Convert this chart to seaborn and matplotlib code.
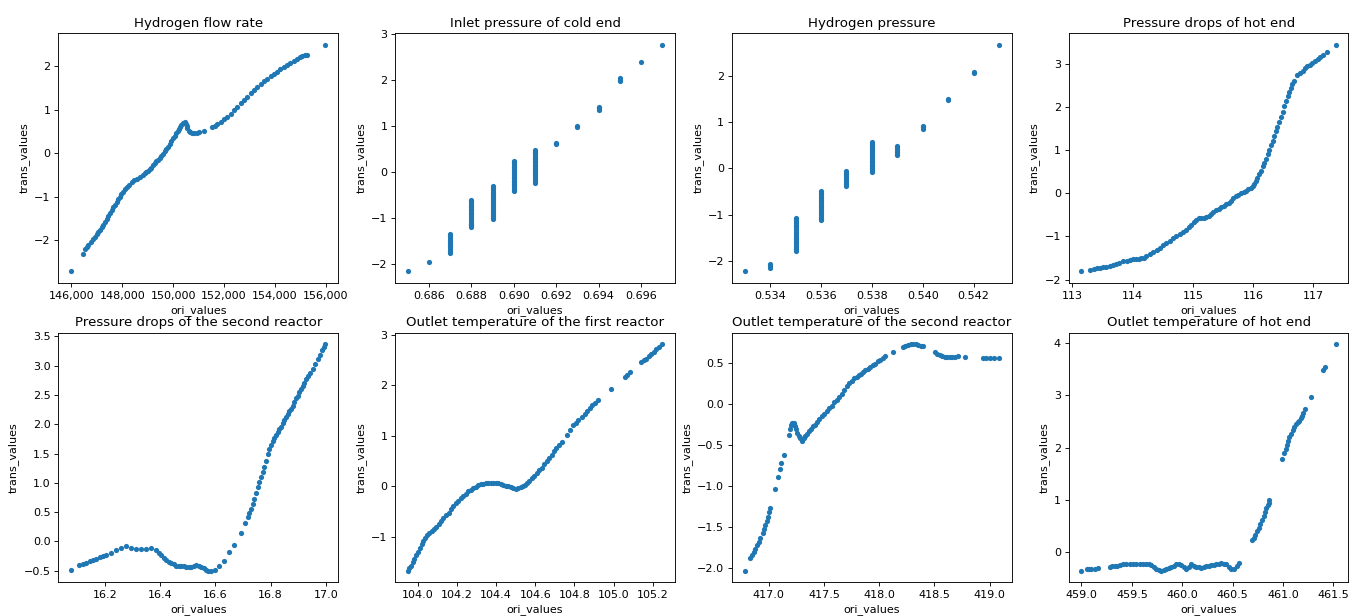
import pandas as pd
import matplotlib.pyplot as plt
import matplotlib.ticker as mticker
import seaborn as sns

# Hydrogen flow rate
flow_x = [145990, 146444, 146549, 146610, 146667, 146760, 146863, 146930, 147000, 147060, 147124,
          147190, 147250, 147320, 147386, 147450, 147520, 147580, 147647, 147710, 147780, 147840,
          147908, 147970, 148040, 148100, 148170, 148270, 148366, 148460, 148562, 148690, 148824,
          148890, 148950, 149020, 149085, 149150, 149210, 149280, 149346, 149410, 149480, 149540,
          149608, 149670, 149740, 149800, 149869, 149930, 150000, 150060, 150131, 150180, 150230,
          150280, 150327, 150400, 150458, 150510, 150540, 150562, 150615, 150667, 150740, 150824,
          150920, 151020, 151216, 151542, 151640, 151739, 151870, 152000, 152130, 152261, 152390,
          152523, 152650, 152784, 152910, 153046, 153180, 153307, 153440, 153569, 153700, 153830,
          153960, 154092, 154220, 154353, 154480, 154614, 154750, 154876, 154970, 155072, 155170,
          155268, 155987]
flow_y = [-2.71, -2.32, -2.19, -2.15, -2.10, -2.03, -1.96, -1.91, -1.86, -1.81, -1.76,
          -1.70, -1.64, -1.58, -1.51, -1.44, -1.37, -1.31, -1.24, -1.18, -1.12, -1.06,
          -1.00, -0.94, -0.88, -0.83, -0.78, -0.72, -0.67, -0.62, -0.58, -0.54, -0.49,
          -0.46, -0.43, -0.40, -0.37, -0.33, -0.28, -0.23, -0.19, -0.15, -0.10, -0.06,
          -0.01, 0.04, 0.10, 0.15, 0.21, 0.27, 0.34, 0.40, 0.47, 0.52, 0.56,
          0.61, 0.65, 0.70, 0.72, 0.68, 0.62, 0.57, 0.52, 0.49, 0.47, 0.46,
          0.47, 0.48, 0.52, 0.60, 0.63, 0.66, 0.72, 0.78, 0.84, 0.90, 0.98,
          1.06, 1.14, 1.22, 1.30, 1.37, 1.44, 1.51, 1.58, 1.65, 1.71, 1.76,
          1.82, 1.87, 1.92, 1.97, 2.02, 2.07, 2.12, 2.17, 2.20, 2.23, 2.25,
          2.26, 2.49]

# Inlet pressure of cold end (discrete levels)
cold_levels = [0.685, 0.686, 0.687, 0.688, 0.689, 0.690, 0.691, 0.692, 0.693, 0.694, 0.695, 0.696, 0.697]
cold_vals = [[-2.16],
             [-1.95],
             [-1.75, -1.71, -1.67, -1.63, -1.59, -1.55, -1.51, -1.47, -1.43, -1.39, -1.35],
             [-1.20, -1.16, -1.12, -1.08, -1.04, -1.00, -0.96, -0.92, -0.88, -0.84, -0.80,
              -0.76, -0.72, -0.68, -0.64, -0.60],
             [-1.03, -0.99, -0.95, -0.91, -0.87, -0.83, -0.79, -0.75, -0.71, -0.67, -0.63,
              -0.59, -0.55, -0.51, -0.47, -0.43, -0.39, -0.35, -0.31],
             [-0.42, -0.38, -0.34, -0.30, -0.26, -0.22, -0.18, -0.14, -0.10, -0.06, -0.02,
              0.02, 0.06, 0.10, 0.14, 0.18, 0.22, 0.25],
             [-0.23, -0.19, -0.15, -0.11, -0.07, -0.03, 0.01, 0.05, 0.09, 0.13, 0.17,
              0.21, 0.25, 0.29, 0.33, 0.37, 0.41, 0.44, 0.47],
             [0.60, 0.63],
             [0.98, 1.01],
             [1.35, 1.39, 1.42],
             [1.98, 2.01, 2.05],
             [2.40],
             [2.77]]

# Hydrogen pressure (discrete levels)
hp_levels = [0.533, 0.534, 0.535, 0.536, 0.537, 0.538, 0.539, 0.540, 0.541, 0.542, 0.543]
hp_vals = [[-2.22],
           [-2.15, -2.11, -2.07],
           [-1.77, -1.73, -1.69, -1.65, -1.61, -1.57, -1.53, -1.49, -1.45, -1.41, -1.37,
            -1.33, -1.29, -1.25, -1.21, -1.17, -1.13, -1.10, -1.07],
           [-1.12, -1.08, -1.04, -1.00, -0.96, -0.92, -0.88, -0.84, -0.80, -0.76, -0.72,
            -0.68, -0.64, -0.60, -0.56, -0.52, -0.48],
           [-0.37, -0.33, -0.29, -0.25, -0.21, -0.17, -0.13, -0.09, -0.05],
           [-0.07, -0.03, 0.01, 0.05, 0.09, 0.13, 0.17, 0.21, 0.25, 0.29, 0.33,
            0.37, 0.41, 0.45, 0.49, 0.53, 0.58],
           [0.28, 0.32, 0.36, 0.40, 0.44, 0.48],
           [0.85, 0.89, 0.92],
           [1.47, 1.50],
           [2.06, 2.09],
           [2.67]]

# Pressure drops of hot end
hot_dp_x = [113.15, 113.29, 113.35, 113.40, 113.45, 113.51, 113.56, 113.62, 113.67, 113.73, 113.78,
            113.84, 113.90, 113.95, 114.00, 114.06, 114.10, 114.14, 114.18, 114.22, 114.28, 114.34,
            114.40, 114.45, 114.50, 114.56, 114.62, 114.67, 114.72, 114.78, 114.84, 114.89, 114.93,
            114.97, 115.01, 115.05, 115.10, 115.14, 115.18, 115.22, 115.26, 115.30, 115.34, 115.38,
            115.43, 115.47, 115.51, 115.55, 115.59, 115.63, 115.67, 115.71, 115.75, 115.80, 115.84,
            115.88, 115.92, 115.96, 115.99, 116.02, 116.05, 116.07, 116.10, 116.13, 116.16, 116.18,
            116.21, 116.24, 116.27, 116.29, 116.32, 116.35, 116.38, 116.40, 116.43, 116.46, 116.49,
            116.51, 116.54, 116.57, 116.60, 116.62, 116.65, 116.68, 116.73, 116.78, 116.82, 116.86,
            116.90, 116.94, 116.98, 117.03, 117.07, 117.11, 117.15, 117.23, 117.37]
hot_dp_y = [-1.81, -1.77, -1.75, -1.73, -1.72, -1.71, -1.70, -1.69, -1.66, -1.63, -1.61,
            -1.58, -1.56, -1.54, -1.53, -1.52, -1.52, -1.51, -1.49, -1.46, -1.41, -1.36,
            -1.31, -1.26, -1.21, -1.15, -1.10, -1.04, -0.99, -0.94, -0.90, -0.85, -0.79,
            -0.73, -0.67, -0.61, -0.58, -0.57, -0.57, -0.56, -0.52, -0.48, -0.43, -0.39,
            -0.36, -0.33, -0.30, -0.26, -0.22, -0.17, -0.12, -0.06, -0.03, 0.00, 0.03,
            0.06, 0.09, 0.12, 0.16, 0.21, 0.29, 0.36, 0.44, 0.52, 0.62, 0.71,
            0.80, 0.90, 1.01, 1.12, 1.22, 1.32, 1.43, 1.53, 1.64, 1.76, 1.88,
            2.01, 2.13, 2.25, 2.35, 2.44, 2.52, 2.59, 2.73, 2.79, 2.84, 2.89,
            2.94, 2.97, 3.01, 3.06, 3.11, 3.16, 3.21, 3.28, 3.44]

# Pressure drops of the second reactor
reac2_dp_x = [16.078, 16.108, 16.120, 16.133, 16.145, 16.157, 16.169, 16.181, 16.193, 16.205, 16.223,
              16.241, 16.259, 16.277, 16.295, 16.313, 16.331, 16.349, 16.367, 16.386, 16.395, 16.404,
              16.413, 16.422, 16.431, 16.440, 16.449, 16.458, 16.467, 16.476, 16.485, 16.494, 16.503,
              16.512, 16.521, 16.530, 16.539, 16.548, 16.557, 16.566, 16.575, 16.584, 16.600, 16.614,
              16.632, 16.651, 16.669, 16.693, 16.708, 16.717, 16.723, 16.729, 16.735, 16.741, 16.747,
              16.753, 16.759, 16.765, 16.771, 16.777, 16.783, 16.789, 16.795, 16.801, 16.807, 16.813,
              16.819, 16.825, 16.831, 16.837, 16.843, 16.849, 16.855, 16.861, 16.867, 16.873, 16.880,
              16.886, 16.892, 16.898, 16.904, 16.910, 16.916, 16.922, 16.928, 16.934, 16.943, 16.952,
              16.961, 16.970, 16.978, 16.986, 16.992, 16.998]
reac2_dp_y = [-0.48, -0.40, -0.38, -0.36, -0.34, -0.32, -0.30, -0.27, -0.25, -0.23, -0.19,
              -0.15, -0.11, -0.085, -0.11, -0.12, -0.13, -0.12, -0.11, -0.15, -0.19, -0.23,
              -0.28, -0.32, -0.35, -0.37, -0.39, -0.41, -0.41, -0.41, -0.42, -0.43, -0.43,
              -0.43, -0.42, -0.40, -0.41, -0.43, -0.46, -0.49, -0.50, -0.50, -0.48, -0.41,
              -0.33, -0.18, -0.06, 0.15, 0.31, 0.42, 0.49, 0.56, 0.64, 0.73, 0.83,
              0.93, 1.01, 1.10, 1.18, 1.27, 1.38, 1.50, 1.58, 1.65, 1.71, 1.76,
              1.82, 1.87, 1.92, 1.96, 2.02, 2.07, 2.12, 2.17, 2.22, 2.26, 2.32,
              2.38, 2.44, 2.49, 2.55, 2.61, 2.66, 2.71, 2.77, 2.82, 2.88, 2.94,
              3.03, 3.11, 3.18, 3.26, 3.31, 3.37]

# Outlet temperature of the first reactor
reac1_t_x = [103.951, 103.958, 103.966, 103.975, 103.983, 103.994, 104.005, 104.013, 104.022, 104.030,
             104.039, 104.050, 104.061, 104.073, 104.085, 104.096, 104.107, 104.120, 104.132, 104.145,
             104.158, 104.170, 104.183, 104.195, 104.208, 104.221, 104.234, 104.246, 104.259, 104.272,
             104.285, 104.298, 104.310, 104.323, 104.336, 104.348, 104.361, 104.374, 104.386, 104.399,
             104.412, 104.425, 104.437, 104.450, 104.463, 104.476, 104.488, 104.501, 104.514, 104.525,
             104.536, 104.546, 104.556, 104.568, 104.581, 104.594, 104.607, 104.620, 104.632, 104.645,
             104.658, 104.670, 104.683, 104.696, 104.708, 104.721, 104.734, 104.763, 104.778, 104.793,
             104.806, 104.819, 104.836, 104.853, 104.866, 104.878, 104.891, 104.903, 104.920, 104.988,
             105.056, 105.068, 105.081, 105.141, 105.154, 105.166, 105.179, 105.192, 105.205, 105.217,
             105.232, 105.247]
reac1_t_y = [-1.68, -1.63, -1.58, -1.51, -1.45, -1.37, -1.30, -1.22, -1.14, -1.08,
             -1.02, -0.98, -0.94, -0.90, -0.86, -0.81, -0.76, -0.70, -0.64, -0.58,
             -0.53, -0.46, -0.40, -0.34, -0.29, -0.24, -0.20, -0.15, -0.10, -0.07,
             -0.04, -0.01, 0.02, 0.04, 0.05, 0.06, 0.07, 0.07, 0.07, 0.07,
             0.06, 0.05, 0.03, 0.01, 0.00, -0.02, -0.04, -0.05, -0.04, -0.02,
             0.00, 0.03, 0.06, 0.11, 0.16, 0.21, 0.26, 0.31, 0.36, 0.43,
             0.49, 0.55, 0.62, 0.69, 0.75, 0.82, 0.88, 1.01, 1.11, 1.21,
             1.26, 1.31, 1.38, 1.44, 1.49, 1.54, 1.60, 1.65, 1.70, 1.93,
             2.16, 2.21, 2.26, 2.46, 2.50, 2.53, 2.58, 2.62, 2.67, 2.72,
             2.77, 2.82]

# Outlet temperature of the second reactor
reac2_t_x = [416.783, 416.835, 416.850, 416.865, 416.880, 416.895, 416.910, 416.925, 416.949, 416.960,
             416.970, 416.982, 416.994, 417.005, 417.015, 417.054, 417.084, 417.105, 417.114, 417.138,
             417.180, 417.195, 417.204, 417.215, 417.226, 417.237, 417.247, 417.259, 417.271, 417.286,
             417.301, 417.316, 417.331, 417.346, 417.361, 417.379, 417.397, 417.416, 417.436, 417.458,
             417.481, 417.503, 417.526, 417.548, 417.571, 417.594, 417.617, 417.640, 417.662, 417.685,
             417.707, 417.730, 417.752, 417.775, 417.797, 417.816, 417.836, 417.854, 417.872, 417.895,
             417.917, 417.940, 417.962, 417.985, 418.008, 418.030, 418.053, 418.128, 418.212, 418.238,
             418.263, 418.285, 418.308, 418.330, 418.353, 418.376, 418.398, 418.504, 418.527, 418.549,
             418.572, 418.594, 418.617, 418.639, 418.662, 418.684, 418.714, 418.774, 418.940, 418.970,
             419.000, 419.040, 419.084]
reac2_t_y = [-2.03, -1.88, -1.84, -1.80, -1.76, -1.72, -1.68, -1.63, -1.57, -1.52,
             -1.47, -1.42, -1.37, -1.32, -1.27, -1.04, -0.89, -0.79, -0.72, -0.62,
             -0.38, -0.30, -0.25, -0.23, -0.23, -0.27, -0.31, -0.35, -0.39, -0.42,
             -0.45, -0.42, -0.39, -0.36, -0.33, -0.30, -0.27, -0.25, -0.22, -0.18,
             -0.15, -0.12, -0.09, -0.05, -0.02, 0.02, 0.05, 0.09, 0.12, 0.17,
             0.22, 0.25, 0.28, 0.31, 0.33, 0.35, 0.36, 0.39, 0.41, 0.43,
             0.45, 0.47, 0.49, 0.52, 0.54, 0.56, 0.58, 0.63, 0.69, 0.71,
             0.72, 0.73, 0.73, 0.73, 0.72, 0.71, 0.70, 0.63, 0.61, 0.59,
             0.58, 0.57, 0.57, 0.57, 0.57, 0.57, 0.58, 0.57, 0.56, 0.56,
             0.56, 0.56, 0.56]

# Outlet temperature of hot end
hot_t_x = [459.000, 459.056, 459.078, 459.099, 459.132, 459.165, 459.280, 459.305, 459.330, 459.355,
           459.379, 459.412, 459.445, 459.478, 459.511, 459.544, 459.577, 459.610, 459.643, 459.668,
           459.693, 459.718, 459.742, 459.767, 459.792, 459.817, 459.841, 459.866, 459.891, 459.916,
           459.940, 459.965, 459.990, 460.015, 460.039, 460.064, 460.089, 460.114, 460.138, 460.163,
           460.188, 460.213, 460.237, 460.262, 460.287, 460.312, 460.336, 460.361, 460.386, 460.411,
           460.435, 460.460, 460.485, 460.518, 460.541, 460.561, 460.692, 460.708, 460.725, 460.741,
           460.758, 460.775, 460.791, 460.806, 460.821, 460.834, 460.847, 460.856, 460.864, 460.989,
           461.013, 461.025, 461.036, 461.049, 461.062, 461.078, 461.095, 461.112, 461.128, 461.145,
           461.161, 461.175, 461.188, 461.201, 461.214, 461.277, 461.398, 461.418, 461.523]
hot_t_y = [-0.35, -0.32, -0.32, -0.32, -0.31, -0.30, -0.27, -0.26, -0.25, -0.25,
           -0.24, -0.23, -0.22, -0.22, -0.23, -0.23, -0.23, -0.23, -0.23, -0.23,
           -0.24, -0.27, -0.31, -0.33, -0.35, -0.34, -0.32, -0.30, -0.27, -0.25,
           -0.23, -0.23, -0.24, -0.28, -0.32, -0.27, -0.23, -0.25, -0.27, -0.28,
           -0.29, -0.28, -0.26, -0.25, -0.24, -0.24, -0.23, -0.22, -0.21, -0.22,
           -0.23, -0.27, -0.31, -0.32, -0.25, -0.20, 0.24, 0.28, 0.33, 0.40,
           0.47, 0.55, 0.62, 0.70, 0.78, 0.84, 0.90, 0.95, 1.00, 1.79,
           1.89, 1.97, 2.05, 2.13, 2.21, 2.27, 2.33, 2.40, 2.46, 2.49,
           2.51, 2.56, 2.60, 2.67, 2.73, 2.97, 3.48, 3.55, 3.98]


def expand(levels, vals):
    xs, ys = [], []
    for lv, vs in zip(levels, vals):
        xs += [lv] * len(vs)
        ys += vs
    return xs, ys


cold_x, cold_y = expand(cold_levels, cold_vals)
hp_x, hp_y = expand(hp_levels, hp_vals)

panels = [
    ('Hydrogen flow rate', flow_x, flow_y),
    ('Inlet pressure of cold end', cold_x, cold_y),
    ('Hydrogen pressure', hp_x, hp_y),
    ('Pressure drops of hot end', hot_dp_x, hot_dp_y),
    ('Pressure drops of the second reactor', reac2_dp_x, reac2_dp_y),
    ('Outlet temperature of the first reactor', reac1_t_x, reac1_t_y),
    ('Outlet temperature of the second reactor', reac2_t_x, reac2_t_y),
    ('Outlet temperature of hot end', hot_t_x, hot_t_y),
]

DPI = 80
fig, axes = plt.subplots(2, 4, figsize=(1358 / DPI, 616 / DPI), dpi=DPI)
for ax, (title, xs, ys) in zip(axes.flat, panels):
    d = pd.DataFrame({'ori_values': xs, 'trans_values': ys})
    sns.scatterplot(data=d, x='ori_values', y='trans_values', ax=ax,
                    s=22, linewidth=0, color='#1f77b4')
    ax.set_title(title)

axes[0, 0].xaxis.set_major_formatter(mticker.StrMethodFormatter('{x:,.0f}'))

plt.subplots_adjust(left=0.043, right=0.993, top=0.946, bottom=0.055, wspace=0.204, hspace=0.2)
plt.savefig('out.png', dpi=DPI)
plt.close()
